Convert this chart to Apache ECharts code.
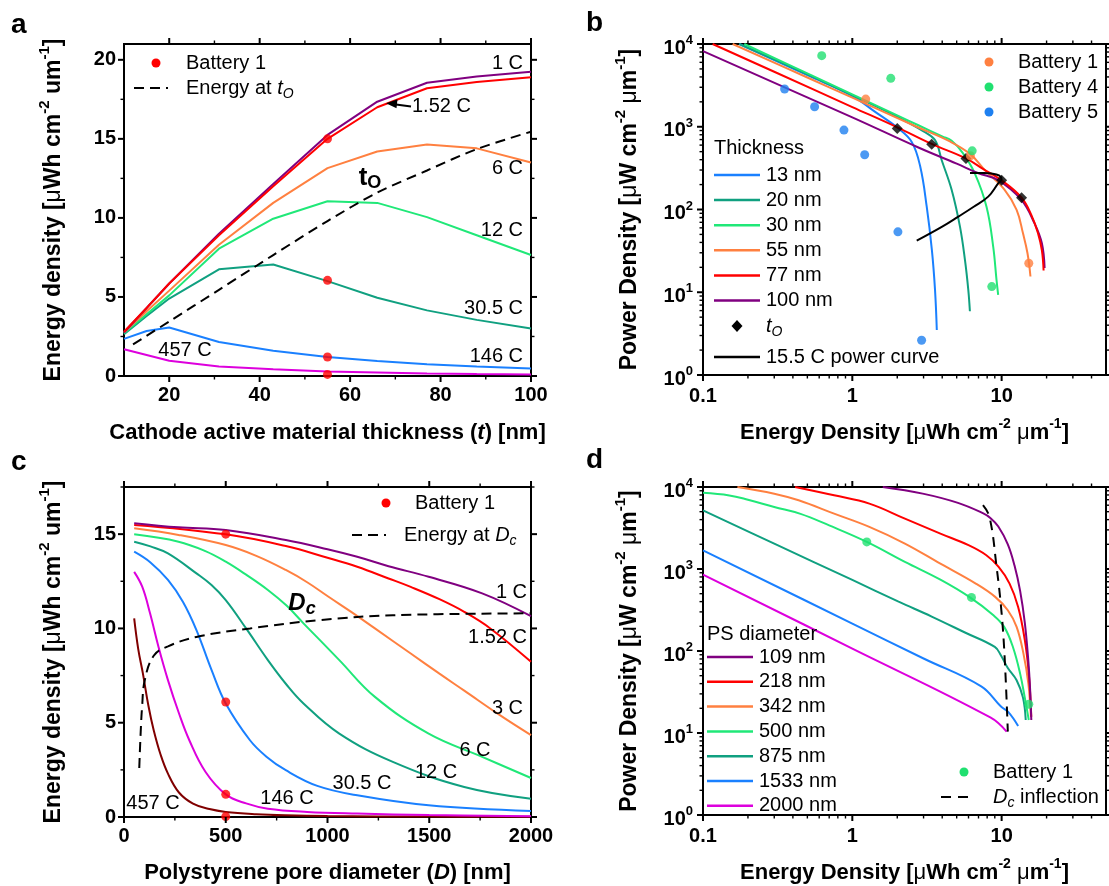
<!DOCTYPE html>
<html><head><meta charset="utf-8">
<script src="https://cdn.jsdelivr.net/npm/echarts@6/dist/echarts.min.js"></script>
<style>html,body{margin:0;padding:0;background:#fff}#c{width:1109px;height:886px}</style>
</head><body><div id="c"></div>
<script>
// ================= DATA =================
// Panel a: energy density vs cathode thickness
const thickness = [10, 15, 20, 31, 43, 55, 66, 77, 88, 100];
const a_1C    = [2.75, 4.3, 5.85, 9.0, 12.15, 15.25, 17.35, 18.55, 18.95, 19.25];
const a_152C  = [2.8, 4.3, 5.85, 8.9, 12.0, 15.0, 17.0, 18.2, 18.6, 18.9];
const a_6C    = [2.75, 4.1, 5.4, 8.3, 10.95, 13.15, 14.2, 14.65, 14.4, 13.5];
const a_12C   = [2.7, 3.9, 5.1, 8.05, 9.95, 11.05, 10.95, 10.05, 8.9, 7.65];
const a_305C  = [2.65, 3.8, 4.9, 6.75, 7.05, 6.0, 4.95, 4.15, 3.55, 3.0];
const a_146C  = [2.35, 2.85, 3.07, 2.15, 1.6, 1.2, 0.95, 0.75, 0.6, 0.48];
const a_457C  = [1.69, 1.33, 0.97, 0.6, 0.42, 0.28, 0.22, 0.16, 0.12, 0.1];
const a_toT   = [12, 20, 31, 43, 55, 66, 77, 88, 100];
const a_toE   = [2.0, 3.45, 5.45, 7.65, 9.8, 11.6, 13.0, 14.35, 15.45];
const a_batT  = [55, 55, 55, 55];
const a_batE  = [15.0, 6.05, 1.2, 0.1];

// Panel b: power vs energy density for thicknesses
const b13E  = [0.175, 0.5, 1.0, 1.43, 2.0, 2.5, 2.85, 3.15, 3.41, 3.58, 3.68];
const b13P  = [10000, 4200, 2350, 1500, 977, 656, 330, 108, 32.5, 10.7, 3.5];
const b20E  = [0.175, 0.5, 1.0, 2.0, 3.0, 3.58, 3.97, 4.63, 5.26, 5.68, 5.98, 6.13];
const b20P  = [10000, 4300, 2400, 1320, 880, 690, 394, 172, 62, 24.6, 10.7, 5.9];
const b30E  = [0.189, 0.5, 1.0, 2.0, 2.77, 4.0, 4.63, 5.5, 6.62, 7.92, 8.78, 9.24, 9.48];
const b30P  = [10000, 4420, 2460, 1370, 1042, 766, 677, 480, 272, 108, 35.7, 14.1, 9.3];
const b55E  = [0.158, 0.5, 1.0, 2.77, 4.5, 6.14, 7.73, 10.5, 12.6, 13.9, 14.9, 15.6];
const b55P  = [10000, 3940, 2245, 980, 664, 470, 299, 172, 99, 51.5, 29.6, 15.5];
const b77E  = [0.116, 0.3, 1.0, 2.0, 3.4, 5.77, 7.5, 10.1, 13.6, 15.8, 17.5, 18.6, 19.1];
const b77P  = [10000, 4620, 1730, 984, 620, 414, 309, 222, 139, 86, 52, 32, 18.3];
const b100E = [0.1, 1.0, 2.77, 5.0, 7.0, 9.48, 13.6, 16.6, 18.6, 19.4];
const b100P = [8190, 1297, 561, 358, 274, 226, 130, 68, 39, 19.6];
const b_toE = [2.0, 3.4, 5.77, 10.0, 13.6];
const b_toP = [950, 615, 414, 225, 139];
const b_pcE = [2.7, 4.0, 5.13, 6.5, 8.13, 9.48, 9.98, 9.6, 8.55, 7.3, 6.14];
const b_pcP = [42, 62, 82, 108, 143, 207, 231, 258, 272, 276, 277];
const b_bat1E = [1.23, 6.18, 15.2];
const b_bat1P = [2160, 446, 22.4];
const b_bat4E = [0.624, 1.81, 6.35, 8.59];
const b_bat4P = [7230, 3845, 512, 11.7];
const b_bat5E = [0.352, 0.559, 0.879, 1.21, 2.02, 2.91];
const b_bat5P = [2855, 1745, 912, 459, 53.7, 2.63];

// Panel c: energy density vs PS pore diameter
const c1D   = [50, 268, 500, 795, 1000, 1146, 1300, 1497, 1760, 2000];
const c1E   = [15.58, 15.36, 15.22, 14.69, 14.2, 13.8, 13.3, 12.74, 11.86, 10.65];
const c152D = [50, 500, 795, 1000, 1146, 1300, 1409, 1550, 1672, 1800, 2000];
const c152E = [15.49, 14.99, 14.37, 13.75, 13.27, 12.65, 12.2, 11.55, 10.88, 10.0, 8.23];
const c3D   = [50, 268, 500, 650, 795, 900, 1005, 1120, 1233, 1409, 1550, 1672, 1847, 2000];
const c3E   = [15.31, 14.96, 14.42, 13.85, 13.1, 12.45, 11.68, 10.85, 10.0, 8.67, 7.6, 6.7, 5.4, 4.34];
const c6D   = [50, 268, 400, 500, 600, 707, 800, 882, 970, 1058, 1233, 1497, 1760, 2000];
const c6E   = [14.99, 14.6, 14.1, 13.54, 12.85, 12.04, 11.2, 10.27, 9.3, 8.32, 6.37, 4.42, 3.19, 2.07];
const c12D  = [50, 130, 216, 356, 430, 500, 600, 707, 800, 882, 1058, 1321, 1672, 2000];
const c12E  = [14.6, 14.35, 13.98, 12.92, 12.3, 11.5, 10.0, 8.32, 7.0, 6.02, 4.42, 2.92, 1.59, 0.97];
const c30D  = [50, 130, 216, 290, 356, 430, 500, 619, 700, 795, 950, 1146, 1497, 2000];
const c30E  = [14.07, 13.5, 12.57, 11.4, 9.91, 7.8, 6.02, 4.07, 3.2, 2.48, 1.65, 1.15, 0.62, 0.32];
const c146D = [50, 90, 128, 170, 216, 270, 321, 400, 500, 600, 707, 900, 1146, 1500, 2000];
const c146E = [13.0, 12.2, 10.8, 9.0, 7.26, 5.5, 4.07, 2.4, 1.2, 0.72, 0.44, 0.27, 0.18, 0.1, 0.04];
const c457D = [50, 70, 93, 120, 146, 180, 216, 270, 339, 420, 500, 650, 795, 1000, 1500, 2000];
const c457E = [10.53, 8.9, 7.6, 5.9, 4.6, 3.3, 2.3, 1.3, 0.71, 0.42, 0.27, 0.15, 0.09, 0.05, 0.02, 0.01];
const c_dcD = [75, 82, 89, 102, 146, 216, 356, 619, 970, 1321, 2000];
const c_dcE = [2.6, 4.5, 5.85, 7.25, 8.55, 9.05, 9.55, 10.0, 10.45, 10.7, 10.8];
const c_batD = [500, 500, 500, 500];
const c_batE = [15.0, 6.1, 1.2, 0.02];

// Panel d: power vs energy density for PS diameters
const d109E  = [1.6, 2.96, 5.1, 7.48, 8.4, 9.5, 11.0, 12.2, 13.3, 14.3, 15.1, 15.5, 15.8];
const d109P  = [10000, 8300, 6400, 4800, 4200, 3300, 2000, 1100, 540, 220, 75, 35, 14.4];
const d218E  = [0.414, 0.755, 1.3, 2.25, 3.89, 6.0, 7.9, 9.55, 11.3, 12.9, 14.3, 15.2, 15.8];
const d218P  = [10000, 7910, 6270, 4110, 2700, 1950, 1470, 1060, 664, 345, 136, 53, 15.8];
const d342E  = [0.17, 0.3, 0.437, 0.755, 1.3, 2.25, 3.89, 6.71, 9.05, 11.0, 12.6, 14.0, 15.1, 15.7];
const d342P  = [10000, 8290, 6880, 4730, 3260, 2040, 1160, 664, 457, 314, 197, 93, 40, 15.8];
const d500E  = [0.1, 0.15, 0.2, 0.3, 0.45, 0.7, 1.25, 2.25, 3.89, 6.14, 8.81, 10.4, 11.9, 13.3, 14.4, 15.2];
const d500P  = [8500, 7900, 7000, 5700, 4700, 3400, 2140, 1220, 740, 450, 273, 197, 112, 53, 25, 14.4];
const d875E  = [0.1, 0.3, 1.0, 2.04, 3.4, 5.68, 9.0, 9.9, 11.0, 12.6, 13.9, 14.5];
const d875P  = [5200, 2040, 735, 400, 263, 168, 112, 88, 62, 44, 27, 14.4];
const d1533E = [0.1, 1.0, 3.0, 7.3, 9.9, 11.1, 12.9];
const d1533P = [1690, 216, 81, 37, 21, 18, 12.2];
const d2000E = [0.1, 1.0, 8.4, 10.8];
const d2000P = [855, 107, 15.5, 10.4];
const d_dcE  = [7.5, 8.3, 9.25, 10.0, 10.5, 11.0];
const d_dcP  = [6000, 4300, 1060, 287, 77, 10.4];
const d_batE = [1.25, 6.28, 15.2];
const d_batP = [2140, 450, 22.4];

// Tick positions
const a_xMaj = [20, 40, 60, 80, 100], a_xMin = [30, 50, 70, 90];
const a_yMaj = [0, 5, 10, 15, 20],   a_yMin = [2.5, 7.5, 12.5, 17.5];
const c_xMaj = [0, 500, 1000, 1500, 2000], c_xMin = [250, 750, 1250, 1750];
const c_yMaj = [0, 5, 10, 15], c_yMin = [2.5, 7.5, 12.5, 17.5];
const log_xMaj = [0.1, 1, 10];
const log_xMin = [0.2,0.3,0.4,0.5,0.6,0.7,0.8,0.9,2,3,4,5,6,7,8,9,20,30,40];
const log_yMaj = [1, 10, 100, 1000, 10000];
const log_yMin = [2,3,4,5,6,7,8,9,20,30,40,50,60,70,80,90,200,300,400,500,600,700,800,900,2000,3000,4000,5000,6000,7000,8000,9000];

// ================= STYLE =================
const F = '"Liberation Sans", Arial, Helvetica, sans-serif';
const C = {purple:'#800080', red:'#ff0000', orange:'#ff8040', green:'#20e878', teal:'#10a080',
           blue:'#1a80ff', magenta:'#dd00dd', brown:'#800000', black:'#000'};
function tok(size, weight, style, extra) {
  return Object.assign({fontFamily:F, fontSize:size, fontWeight:weight||'normal', fontStyle:style||'normal',
    color:'#000', fill:'#000', lineHeight:size, verticalAlign:'top'}, extra||{});
}
function titleRich(sz, sup) {
  return {
    b: tok(sz,'bold',null,{padding:[5,0,0,0]}),
    bi: tok(sz,'bold','italic',{padding:[5,0,0,0]}),
    m: tok(sz,'normal',null,{padding:[5,0,0,0]}),
    s: tok(sup,'bold')
  };
}
const xTitleRich = titleRich(22, 14);
const yTitleRich = titleRich(23, 15);
const logLabRich = { lb: tok(20,'bold',null,{padding:[4,0,0,0]}), ls: tok(13,'bold') };
const annRich = { n: tok(20), i: tok(20,'normal','italic'), o: tok(14,'normal','italic',{padding:[9,0,0,0]}) };

const grids = [
  {left:124, top:44, width:407, height:332},
  {left:703, top:44, width:405, height:331},
  {left:124, top:487, width:407, height:330},
  {left:703, top:487, width:405, height:328}
].map(g => Object.assign(g, {show:true, borderColor:'#000', borderWidth:2, backgroundColor:'transparent'}));

const labStyle = {fontFamily:F, fontSize:20, fontWeight:'bold', color:'#000'};
function linX(gi, min, max, interval, fmt, name, gap) {
  return {gridIndex:gi, type:'value', min, max, interval, axisLine:{show:false}, axisTick:{show:false}, splitLine:{show:false},
    axisLabel:Object.assign({margin:9, formatter:fmt}, labStyle),
    name, nameLocation:'middle', nameGap:gap, nameTextStyle:{rich:xTitleRich}};
}
function linY(gi, min, max, interval, fmt, name, gap) {
  return {gridIndex:gi, type:'value', min, max, interval, axisLine:{show:false}, axisTick:{show:false}, splitLine:{show:false},
    axisLabel:Object.assign({margin:8, formatter:fmt}, labStyle),
    name, nameLocation:'middle', nameGap:gap, nameTextStyle:{rich:yTitleRich}};
}
function isDecade(v) { const l = Math.log10(v); return Math.abs(l - Math.round(l)) < 1e-6; }
function logX(gi, name, gap) {
  return {gridIndex:gi, type:'log', logBase:10, min:0.1, max:50, axisLine:{show:false}, axisTick:{show:false}, splitLine:{show:false},
    axisLabel:Object.assign({margin:11, formatter:v => isDecade(v) ? (v < 1 ? '0.1' : String(Math.round(v))) : ''}, labStyle),
    name, nameLocation:'middle', nameGap:gap, nameTextStyle:{rich:xTitleRich}};
}
function logY(gi, name, gap) {
  return {gridIndex:gi, type:'log', logBase:10, min:1, max:10000, axisLine:{show:false}, axisTick:{show:false}, splitLine:{show:false},
    axisLabel:{margin:10, rich:logLabRich, formatter:v => isDecade(v) ? '{lb|10}{ls|' + Math.round(Math.log10(v)) + '}' : ''},
    name, nameLocation:'middle', nameGap:gap, nameTextStyle:{rich:yTitleRich}};
}
const nameEnergyA = '{b|Energy density [}{m|μ}{b|Wh cm}{s|-2}{b| um}{s|-1}{b|]}';
const nameEnergyB = '{b|Energy Density [}{m|μ}{b|Wh cm}{s|-2}{b| }{m|μ}{b|m}{s|-1}{b|]}';
const namePower   = '{b|Power Density [}{m|μ}{b|W cm}{s|-2}{b| }{m|μ}{b|m}{s|-1}{b|]}';

const xAxis = [
  linX(0, 10, 100, 10, v => v % 20 === 0 ? String(v) : '', '{b|Cathode active material thickness (}{bi|t}{b|) [nm]}', 41),
  logX(1, nameEnergyB, 42),
  linX(2, 0, 2000, 500, v => String(v), '{b|Polystyrene pore diameter (}{bi|D}{b|) [nm]}', 40),
  logX(3, nameEnergyB, 42)
];
const yAxis = [
  linY(0, 0, 21, 5, v => v % 5 === 0 ? String(v) : '', nameEnergyA, 64),
  logY(1, namePower, 67),
  linY(2, 0, 17.5, 5, v => v % 5 === 0 ? String(v) : '', nameEnergyA, 64),
  logY(3, namePower, 67)
];

// ================= SERIES =================
const series = [];
function line(gi, xs, ys, color, opt) {
  opt = opt || {};
  series.push({type:'line', xAxisIndex:gi, yAxisIndex:gi, data:xs.map((x,i)=>[x, ys[i]]),
    showSymbol:false, symbol:'none', smooth:opt.smooth||false, silent:true, animation:false, z:opt.z||3,
    lineStyle:{color, width:opt.w||2, type:opt.dash||'solid'}, itemStyle:{color}});
}
function dots(gi, xs, ys, color, symbol, size) {
  series.push({type:'scatter', xAxisIndex:gi, yAxisIndex:gi, data:xs.map((x,i)=>[x, ys[i]]),
    symbol:symbol||'circle', symbolSize:size||9, itemStyle:{color}, silent:true, animation:false, z:6, clip:false});
}
function tickSeries(gi, ext, xMaj, xMn, yMaj, yMn) {
  const list = [];
  xMaj.forEach(v => list.push({a:'x', v, m:1})); xMn.forEach(v => list.push({a:'x', v, m:0}));
  yMaj.forEach(v => list.push({a:'y', v, m:1})); yMn.forEach(v => list.push({a:'y', v, m:0}));
  series.push({type:'custom', xAxisIndex:gi, yAxisIndex:gi, clip:false, silent:true, animation:false, z:10,
    data:list.map(() => [ext[0], ext[2]]),
    renderItem:(p, api) => {
      const t = list[p.dataIndex];
      const len = t.m ? 6 : 3.5;
      const st = {stroke:'#000', lineWidth:t.m ? 2 : 1.4};
      if (t.a === 'x') {
        const b = api.coord([t.v, ext[2]]), q = api.coord([t.v, ext[3]]);
        return {type:'group', children:[
          {type:'line', shape:{x1:b[0], y1:b[1], x2:b[0], y2:b[1]+len}, style:st},
          {type:'line', shape:{x1:q[0], y1:q[1], x2:q[0], y2:q[1]-len}, style:st}]};
      }
      const l = api.coord([ext[0], t.v]), r = api.coord([ext[1], t.v]);
      return {type:'group', children:[
        {type:'line', shape:{x1:l[0], y1:l[1], x2:l[0]-len, y2:l[1]}, style:st},
        {type:'line', shape:{x1:r[0], y1:r[1], x2:r[0]+len, y2:r[1]}, style:st}]};
    }});
}

// Panel a
line(0, thickness, a_457C, C.magenta);
line(0, thickness, a_146C, C.blue);
line(0, thickness, a_305C, C.teal);
line(0, thickness, a_12C, C.green);
line(0, thickness, a_6C, C.orange);
line(0, thickness, a_1C, C.purple);
line(0, thickness, a_152C, C.red);
line(0, a_toT, a_toE, C.black, {dash:[10,6], smooth:0.3});
dots(0, a_batT, a_batE, C.red, 'circle', 9);
tickSeries(0, [10,100,0,21], a_xMaj, a_xMin, a_yMaj, a_yMin);

// Panel b
const S = 0.4;
line(1, b13E, b13P, C.blue, {smooth:S});
line(1, b20E, b20P, C.teal, {smooth:S});
line(1, b30E, b30P, C.green, {smooth:S});
line(1, b55E, b55P, C.orange, {smooth:S});
line(1, b100E, b100P, C.purple, {smooth:S});
line(1, b77E, b77P, C.red, {smooth:S});
line(1, b_pcE, b_pcP, C.black, {smooth:S});
dots(1, b_toE, b_toP, C.black, 'diamond', 11);
dots(1, b_bat1E, b_bat1P, C.orange, 'circle', 9);
dots(1, b_bat4E, b_bat4P, '#20e070', 'circle', 9);
dots(1, b_bat5E, b_bat5P, '#1e80f0', 'circle', 9);
tickSeries(1, [0.1,50,1,10000], log_xMaj, log_xMin, log_yMaj, log_yMin);

// Panel c
line(2, c457D, c457E, C.brown, {smooth:S});
line(2, c146D, c146E, C.magenta, {smooth:S});
line(2, c30D, c30E, C.blue, {smooth:S});
line(2, c12D, c12E, C.teal, {smooth:S});
line(2, c6D, c6E, C.green, {smooth:S});
line(2, c3D, c3E, C.orange, {smooth:S});
line(2, c152D, c152E, C.red, {smooth:S});
line(2, c1D, c1E, C.purple, {smooth:S});
line(2, c_dcD, c_dcE, C.black, {dash:[10,6], smooth:S});
dots(2, c_batD, c_batE, C.red, 'circle', 9);
tickSeries(2, [0,2000,0,17.5], c_xMaj, c_xMin, c_yMaj, c_yMin);

// Panel d
line(3, d2000E, d2000P, C.magenta, {smooth:S});
line(3, d1533E, d1533P, C.blue, {smooth:S});
line(3, d875E, d875P, C.teal, {smooth:S});
line(3, d500E, d500P, C.green, {smooth:S});
line(3, d342E, d342P, C.orange, {smooth:S});
line(3, d218E, d218P, C.red, {smooth:S});
line(3, d109E, d109P, C.purple, {smooth:S});
line(3, d_dcE, d_dcP, C.black, {dash:[10,7], smooth:S});
dots(3, d_batE, d_batP, '#20e070', 'circle', 9);
tickSeries(3, [0.1,50,1,10000], log_xMaj, log_xMin, log_yMaj, log_yMin);

// ================= ANNOTATIONS (graphic) =================
const G = [];
function T(x, y, text, o) {
  o = o || {};
  const st = {text, fontFamily:F, fontSize:o.size||20, fontWeight:o.weight||'normal', fontStyle:o.style||'normal',
    fill:'#000', align:o.align||'left', verticalAlign:'middle'};
  if (o.rich) st.rich = o.rich;
  G.push({type:'text', x, y, silent:true, z:100, style:st});
}
function L(x1, y1, x2, y2, color, dash, w) {
  G.push({type:'line', silent:true, z:100, shape:{x1,y1,x2,y2}, style:{stroke:color, lineWidth:w||2.2, lineDash:dash||null}});
}
function Dot(cx, cy, color, r) { G.push({type:'circle', silent:true, z:100, shape:{cx, cy, r:r||4.5}, style:{fill:color}}); }

// panel letters
T(11, 25, 'a', {size:28, weight:'bold'});
T(586, 23, 'b', {size:28, weight:'bold'});
T(11, 462, 'c', {size:28, weight:'bold'});
T(586, 460, 'd', {size:28, weight:'bold'});

// panel a
Dot(156, 63, C.red);
T(186, 63, 'Battery 1');
L(134, 88, 168, 88, '#000', [10,6]);
T(186, 88, '{n|Energy at }{i|t}{o|O}', {rich:annRich});
T(523, 63, '1 C', {align:'right'});
T(412, 106, '1.52 C');
G.push({type:'polygon', silent:true, z:100, shape:{points:[[386,103.3],[397.5,99.3],[396.5,108.3]]}, style:{fill:'#000'}});
L(396, 104.5, 411, 106.5, '#000', null, 2);
T(523, 168, '6 C', {align:'right'});
T(370, 178, '{t|t}{o|O}', {align:'center', rich:{t:tok(26,'bold'), o:tok(18,'bold',null,{padding:[9,0,0,0]})}});
T(523, 230, '12 C', {align:'right'});
T(523, 308, '30.5 C', {align:'right'});
T(523, 356, '146 C', {align:'right'});
T(185, 350, '457 C', {align:'center'});

// panel b
Dot(989, 62, C.orange); T(1018, 62, 'Battery 1');
Dot(989, 87, '#20e070'); T(1018, 87, 'Battery 4');
Dot(989, 112, '#1e80f0'); T(1018, 112, 'Battery 5');
T(714, 148, 'Thickness');
const bLeg = [['13 nm', C.blue], ['20 nm', C.teal], ['30 nm', C.green], ['55 nm', C.orange], ['77 nm', C.red], ['100 nm', C.purple]];
bLeg.forEach((r, i) => { const y = 175 + i * 25.1; L(714, y, 760, y, r[1], null, 2.5); T(766, y, r[0]); });
G.push({type:'polygon', silent:true, z:100, shape:{points:[[737,320],[742.5,326],[737,332],[731.5,326]]}, style:{fill:'#000'}});
T(766, 326, '{i|t}{o|O}', {rich:annRich});
L(714, 357, 760, 357, '#000', null, 2.5); T(766, 357, '15.5 C power curve');

// panel c
Dot(386, 503, C.red); T(415, 503, 'Battery 1');
L(352, 535, 386, 535, '#000', [10,6]);
T(404, 535, '{n|Energy at }{i|D}{o|c}', {rich:annRich});
T(527, 592, '1 C', {align:'right'});
T(302, 603, '{t|D}{o|c}', {align:'center', rich:{t:tok(24,'bold','italic'), o:tok(18,'bold','italic',{padding:[9,0,0,0]})}});
T(527, 637, '1.52 C', {align:'right'});
T(523, 708, '3 C', {align:'right'});
T(475, 750, '6 C', {align:'center'});
T(436, 772, '12 C', {align:'center'});
T(362, 783, '30.5 C', {align:'center'});
T(287, 798, '146 C', {align:'center'});
T(153, 803, '457 C', {align:'center'});

// panel d
T(707, 634, 'PS diameter');
const dLeg = [['109 nm', C.purple], ['218 nm', C.red], ['342 nm', C.orange], ['500 nm', C.green], ['875 nm', C.teal], ['1533 nm', C.blue], ['2000 nm', C.magenta]];
dLeg.forEach((r, i) => { const y = 657 + i * 24.8; L(707, y, 753, y, r[1], null, 2.5); T(759, y, r[0]); });
Dot(964, 772, '#20e070'); T(993, 772, 'Battery 1');
L(941, 797, 975, 797, '#000', [10,7]);
T(993, 797, '{i|D}{o|c}{n| inflection}', {rich:annRich});

// ================= CHART =================
const chart = echarts.init(document.getElementById('c'), null, {renderer:'canvas'});
chart.setOption({
  animation:false, backgroundColor:'#fff',
  textStyle:{fontFamily:F},
  grid:grids, xAxis, yAxis, series, graphic:G
});
</script></body></html>
